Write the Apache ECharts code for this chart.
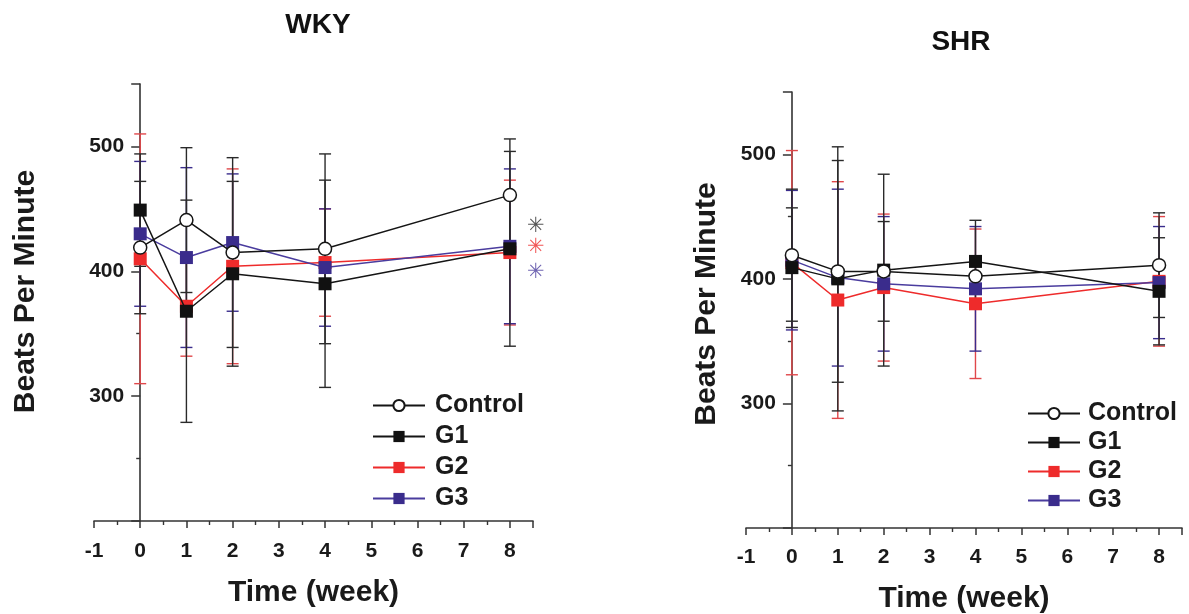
<!DOCTYPE html>
<html>
<head>
<meta charset="utf-8">
<script src="https://cdn.jsdelivr.net/npm/echarts@6/dist/echarts.min.js"></script>
<style>
  html, body { margin: 0; padding: 0; background: #fff; }
  #chart { width: 1189px; height: 614px; }
</style>
</head>
<body>
<div id="chart"></div>
<script>
// Measurement weeks
const weeks = [0, 1, 2, 4, 8];
const groupNames = ['Control', 'G1', 'G2', 'G3'];

// WKY: mean heart rate (bpm) and SD per group
const wkyControl = [419, 441, 415, 418, 461];
const wkyControlSD = [53, 58, 76, 76, 45];
const wkyG1 = [449, 368, 398, 390, 418];
const wkyG1SD = [45, 89, 74, 83, 78];
const wkyG2 = [410, 372, 404, 407, 415];
const wkyG2SD = [100, 40, 78, 43, 58];
const wkyG3 = [430, 411, 423, 403, 420];
const wkyG3SD = [58, 72, 55, 47, 62];

// SHR: mean heart rate (bpm) and SD per group
const shrControl = [419, 406, 406, 402, 411];
const shrControlSD = [53, 89, 40, 10, 42];
const shrG1 = [409, 400, 407, 414, 390];
const shrG1SD = [48, 106, 77, 33, 43];
const shrG2 = [413, 383, 393, 380, 398];
const shrG2SD = [90, 95, 59, 60, 52];
const shrG3 = [415, 401, 396, 392, 397];
const shrG3SD = [56, 71, 54, 50, 45];

// Significance markers beside week 8 (WKY)
const starWeek = 8.56;
const starLevels = [436, 419, 399];

const X_MIN = -1, X_MAX = 8.5;
const FONT = '"Liberation Sans", Arial, Helvetica, sans-serif';
// barZ keeps the black SD bars drawn over the coloured ones
const styles = {
  Control: { line: '#151515', fill: '#ffffff', border: '#151515', symbol: 'circle', bar: '#2a2a2a', barZ: 4, lineZ: 9 },
  G1: { line: '#151515', fill: '#111111', border: '#111111', symbol: 'rect', bar: '#2a2a2a', barZ: 3, lineZ: 8 },
  G2: { line: '#ee2b2b', fill: '#ee2b2b', border: '#ee2b2b', symbol: 'rect', bar: '#e0474a', barZ: 1, lineZ: 6 },
  G3: { line: '#4a3c9e', fill: '#3a2c8c', border: '#3a2c8c', symbol: 'rect', bar: '#3a2c8c', barZ: 2, lineZ: 7 }
};

// Panel boxes (pixels); the y axis is drawn through week 0
const grids = [
  { left: 94, right: 656, top: 84, bottom: 93 },
  { left: 746, right: 7, top: 92, bottom: 86 }
];
function zeroOffset(g) {
  const width = 1189 - g.left - g.right;
  return -width * (0 - X_MIN) / (X_MAX - X_MIN);
}

function errorBarRenderer(color) {
  return function (params, api) {
    const x = api.value(0), m = api.value(1), s = api.value(2);
    const hi = api.coord([x, m + s]);
    const lo = api.coord([x, m - s]);
    const half = 6;
    const st = { stroke: color, lineWidth: 1.4, fill: null };
    return {
      type: 'group',
      children: [
        { type: 'line', shape: { x1: hi[0], y1: hi[1], x2: lo[0], y2: lo[1] }, style: st },
        { type: 'line', shape: { x1: hi[0] - half, y1: hi[1], x2: hi[0] + half, y2: hi[1] }, style: st },
        { type: 'line', shape: { x1: lo[0] - half, y1: lo[1], x2: lo[0] + half, y2: lo[1] }, style: st }
      ]
    };
  };
}

function groupSeries(idx, name, means, sds) {
  const s = styles[name];
  return [
    {
      type: 'custom', name: name + ' SD', xAxisIndex: idx, yAxisIndex: idx,
      renderItem: errorBarRenderer(s.bar), encode: { x: 0, y: 1 },
      data: weeks.map((w, i) => [w, means[i], sds[i]]), z: s.barZ, silent: true
    },
    {
      type: 'line', name: name, xAxisIndex: idx, yAxisIndex: idx,
      data: weeks.map((w, i) => [w, means[i]]),
      symbol: s.symbol, symbolSize: 13, showSymbol: true,
      lineStyle: { color: s.line, width: 1.5 },
      itemStyle: { color: s.fill, borderColor: s.border, borderWidth: name === 'Control' ? 1.5 : 0 },
      z: s.lineZ, animation: false
    }
  ];
}

function xAxisFor(idx, labelMargin, nameGap) {
  return {
    type: 'value', gridIndex: idx, min: X_MIN, max: X_MAX, interval: 1,
    name: 'Time (week)', nameLocation: 'middle', nameGap: nameGap,
    nameTextStyle: { fontFamily: FONT, fontSize: 30, fontWeight: 'bold', color: '#1a1a1a' },
    axisLine: { onZero: false, lineStyle: { color: '#333', width: 1.6 } },
    axisTick: { show: true, length: 7, lineStyle: { color: '#333', width: 1.5 } },
    minorTick: { show: true, splitNumber: 2, length: 4, lineStyle: { color: '#333', width: 1.4 } },
    axisLabel: {
      margin: labelMargin, fontFamily: FONT, fontSize: 21, fontWeight: 'bold', color: '#1a1a1a',
      formatter: v => (Number.isInteger(v) ? String(v) : '')
    },
    splitLine: { show: false }
  };
}

function yAxisFor(idx, nameGap, namePad) {
  return {
    type: 'value', gridIndex: idx, min: 200, max: 550, interval: 100,
    position: 'left', offset: zeroOffset(grids[idx]),
    name: 'Beats Per Minute', nameLocation: 'middle', nameGap: nameGap, nameRotate: 90,
    nameTextStyle: {
      fontFamily: FONT, fontSize: 30, fontWeight: 'bold', color: '#1a1a1a',
      padding: [0, 0, 0, namePad]
    },
    axisLine: { onZero: false, lineStyle: { color: '#333', width: 1.6 } },
    axisTick: { show: true, length: 9, lineStyle: { color: '#333', width: 1.5 } },
    minorTick: { show: true, splitNumber: 2, length: 4, lineStyle: { color: '#333', width: 1.4 } },
    axisLabel: {
      margin: 16, fontFamily: FONT, fontSize: 21, fontWeight: 'bold', color: '#1a1a1a',
      formatter: v => (v % 100 === 0 && v > 200 ? String(v) : '')
    },
    splitLine: { show: false }
  };
}

function legendFor(left, top, gap, textGap) {
  return {
    orient: 'vertical', left: left, top: top, itemGap: gap, padding: 0,
    itemWidth: 52, itemHeight: 14, data: groupNames,
    selectedMode: false,
    textStyle: {
      fontFamily: FONT, fontSize: 25, fontWeight: 'bold', color: '#1a1a1a',
      lineHeight: 24, padding: [0, 0, 0, textGap]
    }
  };
}

const series = [].concat(
  groupSeries(0, 'Control', wkyControl, wkyControlSD),
  groupSeries(0, 'G1', wkyG1, wkyG1SD),
  groupSeries(0, 'G2', wkyG2, wkyG2SD),
  groupSeries(0, 'G3', wkyG3, wkyG3SD),
  groupSeries(1, 'Control', shrControl, shrControlSD),
  groupSeries(1, 'G1', shrG1, shrG1SD),
  groupSeries(1, 'G2', shrG2, shrG2SD),
  groupSeries(1, 'G3', shrG3, shrG3SD),
  [{
    type: 'scatter', name: 'significance', xAxisIndex: 0, yAxisIndex: 0, clip: false,
    symbolSize: 1, itemStyle: { color: 'rgba(0,0,0,0)' }, silent: true, z: 10,
    data: starLevels.map((lv, i) => ({
      value: [starWeek, lv],
      label: { color: [styles.G1.bar, styles.G2.line, styles.G3.line][i] }
    })),
    label: {
      show: true, position: 'inside', formatter: '\u2733',
      fontFamily: '"DejaVu Sans", sans-serif', fontSize: 21, fontWeight: 'bold'
    }
  }]
);

const chart = echarts.init(document.getElementById('chart'), null, { renderer: 'canvas' });
chart.setOption({
  animation: false,
  backgroundColor: '#ffffff',
  title: [
    { text: 'WKY', left: 313, top: 6, textAlign: 'center',
      textStyle: { fontFamily: FONT, fontSize: 28, fontWeight: 'bold', color: '#111' } },
    { text: 'SHR', left: 956, top: 23, textAlign: 'center',
      textStyle: { fontFamily: FONT, fontSize: 28, fontWeight: 'bold', color: '#111' } }
  ],
  legend: [
    legendFor(372, 393, 6, 5),
    legendFor(1027, 401, 4, 3)
  ],
  grid: grids.map(g => Object.assign({ outerBoundsMode: 'none', containLabel: false }, g)),
  xAxis: [xAxisFor(0, 20, 57), xAxisFor(1, 19, 56)],
  yAxis: [yAxisFor(0, 99, 22), yAxisFor(1, 70, 12)],
  series: series
});
</script>
</body>
</html>
